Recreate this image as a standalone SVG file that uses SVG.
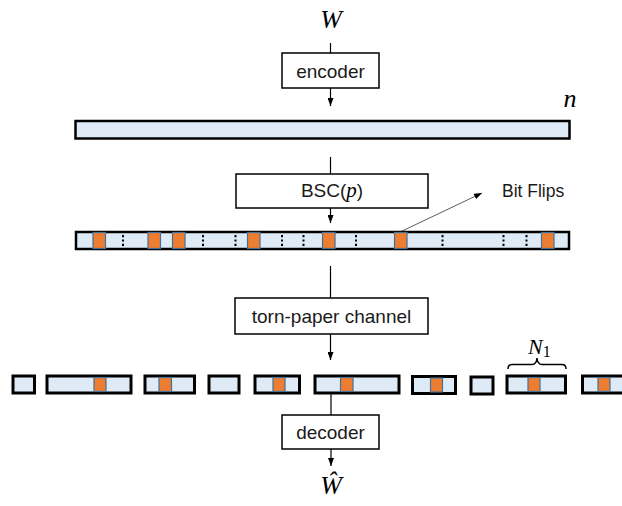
<svg xmlns="http://www.w3.org/2000/svg" width="622" height="506" viewBox="0 0 622 506">
<style>
.box{fill:#fff;stroke:#000;stroke-width:1.5}
.lbl{font-family:"Liberation Sans",Arial,sans-serif;font-size:19px;fill:#1a1a1a;text-anchor:middle}
.math{font-family:"Liberation Serif","Times New Roman",serif;font-style:italic;fill:#000}
.bar{fill:#DEEBF7;stroke:#000;stroke-width:2.5}
.frag{fill:#DEEBF7;stroke:#000;stroke-width:3}
.flip{fill:#ED7D31;stroke:#41719C;stroke-width:1.2}
.dot{stroke:#000;stroke-width:2;stroke-dasharray:2.2 2.2}
.ln{stroke:#000;stroke-width:1.2;fill:none}
</style>
<defs>
<marker id="ah" viewBox="0 0 8 6" refX="8" refY="3" markerWidth="8" markerHeight="6" markerUnits="userSpaceOnUse" orient="auto">
<path d="M0,0 L8,3 L0,6 z" fill="#000"/>
</marker>
</defs>

<g id="connectors">
<line class="ln" x1="330.5" y1="43" x2="330.5" y2="53"/>
<line class="ln" x1="330.5" y1="88" x2="330.5" y2="106" marker-end="url(#ah)"/>
<line class="ln" x1="330.5" y1="157" x2="330.5" y2="174"/>
<line class="ln" x1="330.5" y1="208" x2="330.5" y2="223" marker-end="url(#ah)"/>
<line class="ln" x1="330.5" y1="266" x2="330.5" y2="298"/>
<line class="ln" x1="330.5" y1="334" x2="330.5" y2="360" marker-end="url(#ah)"/>
<line class="ln" x1="331" y1="394" x2="331" y2="415"/>
<line class="ln" x1="331" y1="449" x2="331" y2="466" marker-end="url(#ah)"/>
<line x1="400" y1="232" x2="482" y2="193" stroke="#333" stroke-width="0.8" marker-end="url(#ah)"/>
</g>

<g id="W">
<text class="math" x="331" y="28" font-size="26" text-anchor="middle">W</text>
</g>

<g id="encoder">
<rect class="box" x="282" y="53" width="97" height="35"/>
<text class="lbl" x="330.5" y="78">encoder</text>
</g>

<g id="codeword">
<rect class="bar" x="75.5" y="121" width="494" height="17.5"/>
<text class="math" x="570" y="107" font-size="26" text-anchor="middle">n</text>
</g>

<g id="bsc">
<rect class="box" x="236" y="174" width="192" height="34"/>
<text class="lbl" x="332" y="197">BSC(<tspan class="math" font-size="21">p</tspan>)</text>
</g>

<g id="noisy">
<rect class="bar" x="76" y="232" width="493" height="17"/>
<rect class="flip" x="93" y="232.5" width="12.5" height="16"/>
<rect class="flip" x="148" y="232.5" width="12.5" height="16"/>
<rect class="flip" x="172.5" y="232.5" width="12.5" height="16"/>
<rect class="flip" x="247.5" y="232.5" width="12.5" height="16"/>
<rect class="flip" x="322.5" y="232.5" width="12.5" height="16"/>
<rect class="flip" x="394.5" y="232.5" width="12.5" height="16"/>
<rect class="flip" x="541.5" y="232.5" width="12.5" height="16"/>
<line class="dot" x1="123" y1="235" x2="123" y2="247"/>
<line class="dot" x1="203" y1="235" x2="203" y2="247"/>
<line class="dot" x1="235.5" y1="235" x2="235.5" y2="247"/>
<line class="dot" x1="282" y1="235" x2="282" y2="247"/>
<line class="dot" x1="303.5" y1="235" x2="303.5" y2="247"/>
<line class="dot" x1="356" y1="235" x2="356" y2="247"/>
<line class="dot" x1="442.5" y1="235" x2="442.5" y2="247"/>
<line class="dot" x1="503.5" y1="235" x2="503.5" y2="247"/>
<line class="dot" x1="526.5" y1="235" x2="526.5" y2="247"/>
</g>

<g id="bitflips">
<text x="502" y="197" font-family="Liberation Sans,Arial,sans-serif" font-size="17.5" fill="#1a1a1a">Bit Flips</text>
</g>

<g id="tornpaper">
<rect class="box" x="235" y="298" width="193" height="36"/>
<text class="lbl" x="331.5" y="323">torn-paper channel</text>
</g>

<g id="fragments">
<rect class="frag" x="13" y="376" width="21.5" height="17"/>
<rect class="frag" x="47" y="376" width="84" height="17"/>
<rect class="flip" x="94" y="377.5" width="12" height="14"/>
<rect class="frag" x="145" y="376" width="49.5" height="17"/>
<rect class="flip" x="159" y="377.5" width="12.5" height="14"/>
<rect class="frag" x="209" y="376" width="30" height="17"/>
<rect class="frag" x="255" y="376" width="44.5" height="17"/>
<rect class="flip" x="273" y="377.5" width="12" height="14"/>
<rect class="frag" x="315" y="376" width="84" height="17"/>
<rect class="flip" x="340.5" y="377.5" width="12.5" height="14"/>
<rect class="frag" x="412.5" y="376.5" width="43" height="17"/>
<rect class="flip" x="430.5" y="378" width="12" height="14"/>
<rect class="frag" x="471" y="377" width="22" height="17"/>
<rect class="frag" x="507" y="376" width="58.5" height="17"/>
<rect class="flip" x="528" y="377.5" width="12" height="14"/>
<rect class="frag" x="582.5" y="376" width="60" height="17"/>
<rect class="flip" x="598" y="377.5" width="12" height="14"/>
</g>

<g id="N1">
<path d="M508,369 Q508,364.5 512,364.5 L532,364.5 Q536.5,364.5 537,358 Q537.5,364.5 542,364.5 L562,364.5 Q566,364.5 566,369" fill="none" stroke="#000" stroke-width="1.5"/>
<text class="math" x="528" y="354" font-size="22">N<tspan font-style="normal" font-size="16" dy="3">1</tspan></text>
</g>

<g id="decoder">
<rect class="box" x="282" y="415" width="97" height="34"/>
<text class="lbl" x="330.5" y="439">decoder</text>
</g>

<g id="What">
<text class="math" x="331" y="494" font-size="26" text-anchor="middle">Ŵ</text>
</g>
</svg>
